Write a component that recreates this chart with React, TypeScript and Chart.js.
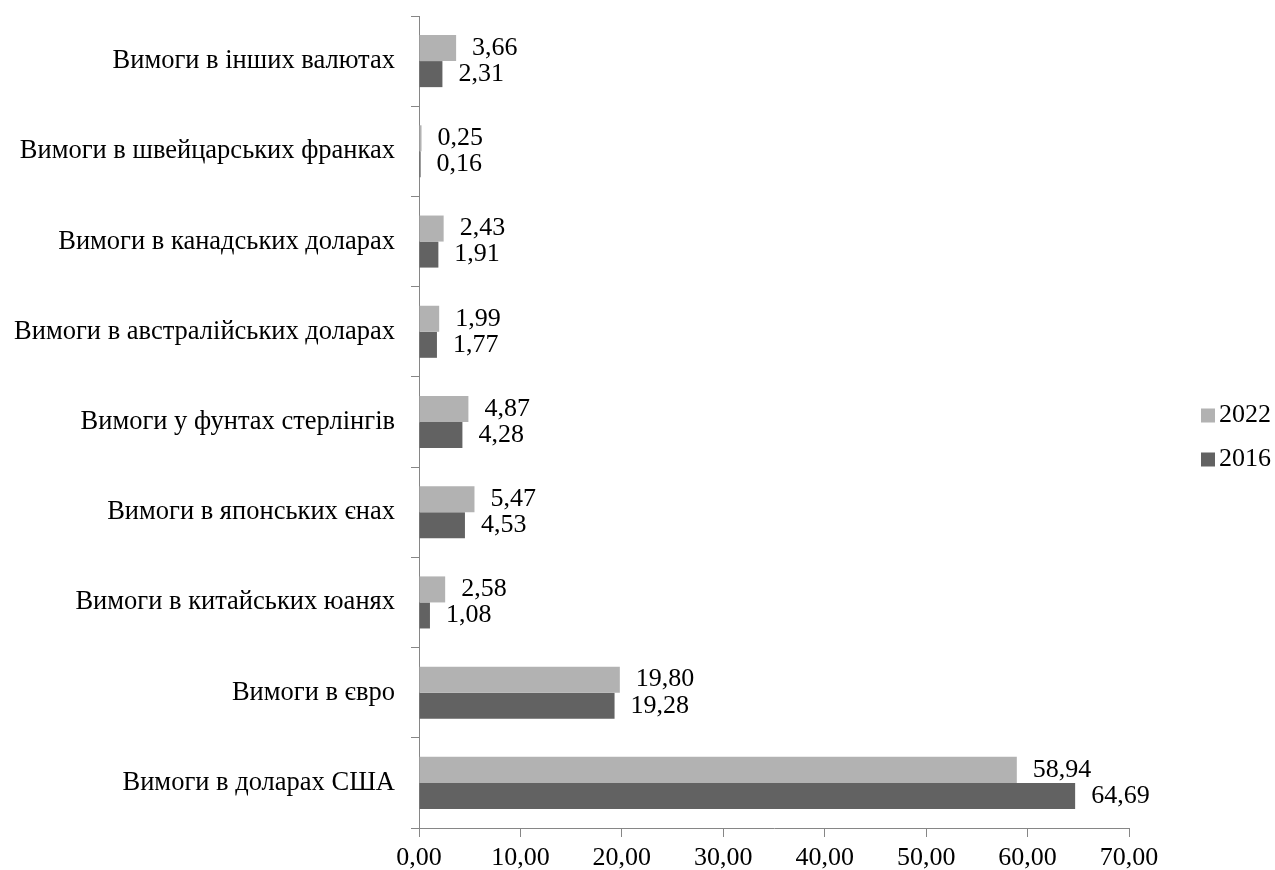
import React, { useEffect, useRef } from "react";
import { Chart, registerables } from "chart.js";

Chart.register(...registerables);

// Categories listed top to bottom
const categories = [
  "Вимоги в інших валютах",
  "Вимоги в швейцарських франках",
  "Вимоги в канадських доларах",
  "Вимоги в австралійських доларах",
  "Вимоги у фунтах стерлінгів",
  "Вимоги в японських єнах",
  "Вимоги в китайських юанях",
  "Вимоги в євро",
  "Вимоги в доларах США",
];

const seriesLabels = ["2022", "2016"];
const values2022 = [3.66, 0.25, 2.43, 1.99, 4.87, 5.47, 2.58, 19.8, 58.94];
const values2016 = [2.31, 0.16, 1.91, 1.77, 4.28, 4.53, 1.08, 19.28, 64.69];

const xMin = 0;
const xMax = 70;
const xStep = 10;

const FONT_FAMILY = "'Liberation Serif', 'Times New Roman', serif";
const FONT_SIZE = 26;
const CATEGORY_FONT_SIZE = 26.5;
const AXIS_COLOR = "#868686";
const COLOR_2022 = "#b2b2b2";
const COLOR_2016 = "#626262";

const fmt = (v: number) => v.toFixed(2).replace(".", ",");

// Value labels written just past the end of each bar
const valueLabels = {
  id: "valueLabels",
  afterDatasetsDraw(chart: any) {
    const ctx = chart.ctx;
    ctx.save();
    ctx.font = `${FONT_SIZE}px ${FONT_FAMILY}`;
    ctx.fillStyle = "#000";
    ctx.textAlign = "left";
    ctx.textBaseline = "middle";
    chart.data.datasets.forEach((ds: any, i: number) => {
      const meta = chart.getDatasetMeta(i);
      meta.data.forEach((bar: any, j: number) => {
        ctx.fillText(fmt(ds.data[j]), bar.x + 16, bar.y);
      });
    });
    ctx.restore();
  },
};

// Legend on the right: square swatch followed by the series name
const sideLegend = {
  id: "sideLegend",
  afterDraw(chart: any) {
    const ctx = chart.ctx;
    const left = 1201;
    const box = 14;
    const rows = [415.5, 459.5];
    ctx.save();
    ctx.font = `${FONT_SIZE}px ${FONT_FAMILY}`;
    ctx.textAlign = "left";
    ctx.textBaseline = "middle";
    chart.data.datasets.forEach((ds: any, i: number) => {
      const cy = rows[i];
      ctx.fillStyle = ds.backgroundColor;
      ctx.fillRect(left, cy - box / 2, box, box);
      ctx.fillStyle = "#000";
      ctx.fillText(ds.label, left + box + 4, cy);
    });
    ctx.restore();
  },
};

export default function App() {
  const canvasRef = useRef<HTMLCanvasElement | null>(null);

  useEffect(() => {
    const canvas = canvasRef.current;
    if (!canvas) return;
    const chart = new Chart(canvas, {
      type: "bar",
      data: {
        labels: categories,
        datasets: [
          {
            label: seriesLabels[0],
            data: values2022,
            backgroundColor: COLOR_2022,
            borderWidth: 0,
            categoryPercentage: 0.577,
            barPercentage: 1,
          },
          {
            label: seriesLabels[1],
            data: values2016,
            backgroundColor: COLOR_2016,
            borderWidth: 0,
            categoryPercentage: 0.577,
            barPercentage: 1,
          },
        ],
      },
      options: {
        indexAxis: "y",
        responsive: false,
        animation: false,
        layout: { padding: { top: 16, right: 146, bottom: 0, left: 0 } },
        plugins: {
          legend: { display: false },
          tooltip: { enabled: false },
        },
        scales: {
          x: {
            type: "linear",
            min: xMin,
            max: xMax,
            afterFit: (scale: any) => {
              scale.height = 42;
            },
            ticks: {
              stepSize: xStep,
              padding: 6,
              color: "#000",
              font: { family: FONT_FAMILY, size: FONT_SIZE },
              callback: (v: any) => fmt(Number(v)),
              maxRotation: 0,
            },
            grid: {
              drawOnChartArea: false,
              drawTicks: true,
              tickLength: 9,
              color: AXIS_COLOR,
            },
            border: { display: true, color: AXIS_COLOR, width: 1 },
          },
          y: {
            type: "category",
            afterFit: (scale: any) => {
              scale.width = 419;
              scale.paddingTop = 0;
              scale.paddingBottom = 0;
            },
            ticks: {
              padding: 16,
              color: "#000",
              font: { family: FONT_FAMILY, size: CATEGORY_FONT_SIZE },
            },
            grid: {
              offset: true,
              drawOnChartArea: false,
              drawTicks: true,
              tickLength: 8,
              color: AXIS_COLOR,
            },
            border: { display: true, color: AXIS_COLOR, width: 1 },
          },
        },
      },
      plugins: [valueLabels, sideLegend],
    });
    return () => chart.destroy();
  }, []);

  return (
    <div style={{ position: "absolute", left: 0, top: 0, width: 1275, height: 870, background: "#fff" }}>
      <canvas ref={canvasRef} width={1275} height={870} />
    </div>
  );
}
